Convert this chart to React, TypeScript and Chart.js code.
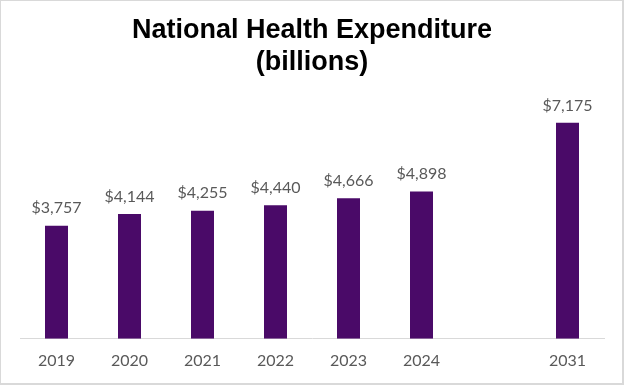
import React, { useEffect, useRef } from "react";
import { Chart, registerables } from "chart.js";

Chart.register(...registerables);

const categories = ["2019", "2020", "2021", "2022", "2023", "2024", "", "2031"];
const expenditure = [3757, 4144, 4255, 4440, 4666, 4898, null, 7175];
const titleLines = ["National Health Expenditure", "(billions)"];

const valueLabels = {
  id: "valueLabels",
  afterDatasetsDraw(chart: any) {
    const ctx = chart.ctx;
    const meta = chart.getDatasetMeta(0);
    ctx.save();
    ctx.font = "16px Lato";
    ctx.fillStyle = "#595959";
    ctx.textAlign = "center";
    ctx.textBaseline = "middle";
    meta.data.forEach((bar: any, i: number) => {
      const v = expenditure[i];
      if (v == null) return;
      ctx.fillText("$" + v.toLocaleString("en-US"), bar.x, bar.y - 17.5);
    });
    ctx.restore();
  },
};

export default function App() {
  const ref = useRef<HTMLCanvasElement>(null);
  useEffect(() => {
    document.body.style.margin = "0";
    const chart = new Chart(ref.current!, {
      type: "bar",
      data: {
        labels: categories,
        datasets: [
          {
            data: expenditure,
            backgroundColor: "#4A0A68",
            borderWidth: 0,
            categoryPercentage: 1,
            barPercentage: 0.315,
          },
        ],
      },
      options: {
        animation: false,
        responsive: false,
        maintainAspectRatio: false,
        layout: { padding: { left: 19, right: 18, top: 0, bottom: 1 } },
        plugins: {
          legend: { display: false },
          tooltip: { enabled: false },
          title: {
            display: true,
            text: titleLines,
            color: "#000000",
            font: { family: "'Liberation Sans', Arial", size: 27, weight: "bold", lineHeight: 1.167 },
            padding: { top: 14, bottom: 20 },
          },
        },
        scales: {
          x: {
            grid: { display: false, drawTicks: false },
            border: { display: true, color: "#d9d9d9", width: 1 },
            ticks: { color: "#595959", font: { family: "Lato", size: 16 }, padding: 12 },
          },
          y: {
            display: false,
            min: 0,
            max: 8000,
          },
        },
      },
      plugins: [valueLabels],
    });
    return () => chart.destroy();
  }, []);
  return (
    <div
      style={{
        position: "absolute",
        left: 0,
        top: 0,
        width: 624,
        height: 385,
        boxSizing: "border-box",
        borderStyle: "solid",
        borderColor: "#d9d9d9",
        borderWidth: "1px 2px 2px 1px",
        background: "#fff",
      }}
    >
      <canvas ref={ref} width={621} height={382} style={{ display: "block" }} />
    </div>
  );
}
